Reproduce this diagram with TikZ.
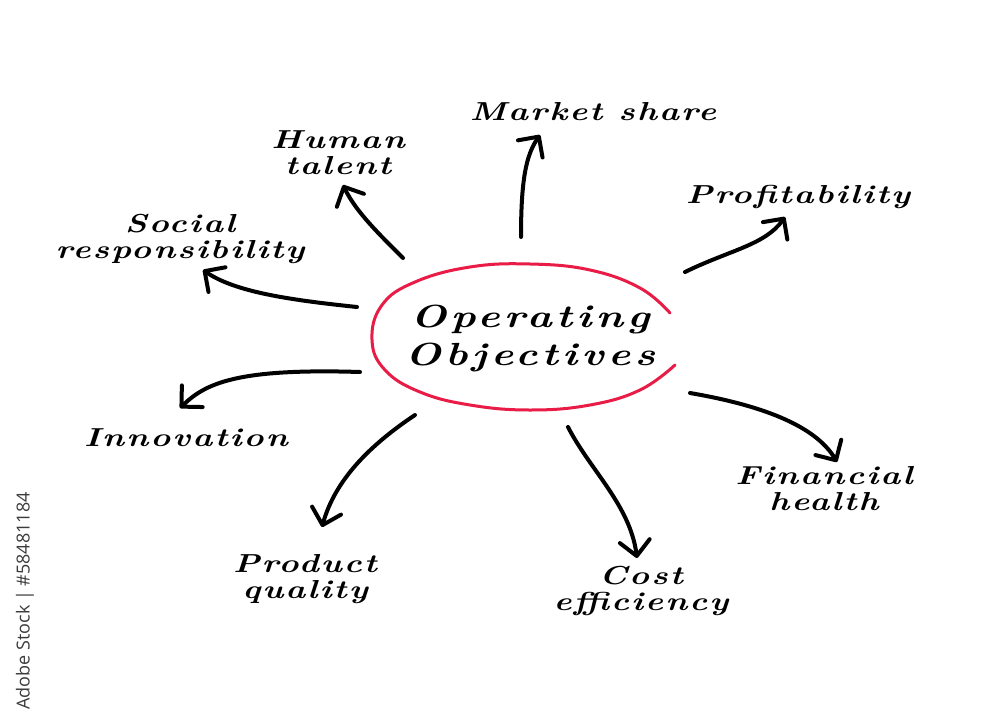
\documentclass[tikz,border=0pt]{standalone}
\usepackage{fontspec}
\usetikzlibrary{arrows.meta}
\newfontfamily\hand{lmroman10-bolditalic}[Extension=.otf, FakeStretch=1.3, LetterSpace=8]
\newfontfamily\handtitle{lmroman10-bolditalic}[Extension=.otf, FakeStretch=1.32, LetterSpace=13]
\newfontfamily\stockfont{Open Sans}
\definecolor{ovalred}{RGB}{232,28,70}
\definecolor{stockgray}{RGB}{60,60,60}
\begin{document}
\begin{tikzpicture}[x=1pt,y=-1pt,
  lbl/.style={font=\hand\fontsize{26}{26}\selectfont, align=center, inner sep=0pt},
  title/.style={font=\handtitle\fontsize{32}{38}\selectfont, align=center, inner sep=0pt},
  conn/.style={line width=4pt, line cap=round, line join=round,
    -{Straight Barb[length=15pt,width=30pt,round]}},
  oval/.style={draw=ovalred, line width=3pt, line cap=round, line join=round},
  stock/.style={rotate=90, font=\stockfont\fontsize{18}{18}\selectfont, text=stockgray, inner sep=0pt}
  ]
\fill[white] (0,0) rectangle (1000,717);
\useasboundingbox (0,0) rectangle (1000,717);

% centre
\node[title] (center) at (530,338) {Operating\\Objectives};
\draw[oval] plot[smooth, tension=0.7] coordinates {(675,365) (640,390) (590,405) (530,410) (470,405) (420,392) (385,370) (372,340) (382,305) (415,282) (470,267) (530,264) (590,270) (640,288) (670,313)};

% labels
\node[lbl] (market) at (593,112) {Market share};
\node[lbl] (human) at (338,153) {Human\\talent};
\node[lbl] (social) at (180,239) {Social\\responsibility};
\node[lbl] (profit) at (798,197) {Profitability};
\node[lbl] (innov) at (186,438) {Innovation};
\node[lbl] (product) at (305,579) {Product\\quality};
\node[lbl] (cost) at (641,591) {Cost\\efficiency};
\node[lbl] (finance) at (824,489) {Financial\\health};

\node[stock] (stocktext) at (25,601) {Adobe Stock | \#58481184};

% connector ends
\coordinate (ms-s) at (521,237); \coordinate (ms-t) at (540,135);
\coordinate (ht-s) at (403,258); \coordinate (ht-t) at (343,185);
\coordinate (sr-s) at (357,307); \coordinate (sr-t) at (203,270);
\coordinate (in-s) at (360,372); \coordinate (in-t) at (180,408);
\coordinate (pq-s) at (415,415); \coordinate (pq-t) at (322,527);
\coordinate (ce-s) at (568,427); \coordinate (ce-t) at (637,558);
\coordinate (fh-s) at (690,393); \coordinate (fh-t) at (837,462);
\coordinate (pr-s) at (685,272); \coordinate (pr-t) at (785,217);

\draw[conn] (ms-s) .. controls (521,180) and (526,155) .. (ms-t);
\draw[conn] (ht-s) .. controls (380,235) and (356,212) .. (ht-t);
\draw[conn] (sr-s) .. controls (290,300) and (235,292) .. (sr-t);
\draw[conn] (in-s) .. controls (235,368) and (205,384) .. (in-t);
\draw[conn] (pq-s) .. controls (370,445) and (335,480) .. (pq-t);
\draw[conn] (ce-s) .. controls (590,470) and (630,505) .. (ce-t);
\draw[conn] (fh-s) .. controls (760,405) and (815,425) .. (fh-t);
\draw[conn] (pr-s) .. controls (730,250) and (765,245) .. (pr-t);
\end{tikzpicture}
\end{document}
